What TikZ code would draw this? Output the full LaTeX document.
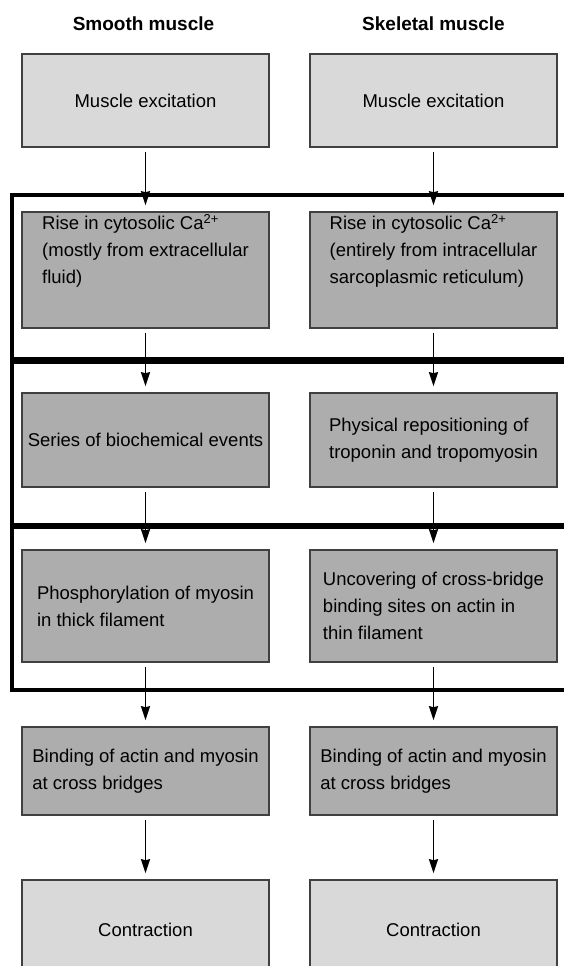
\documentclass[tikz,border=0pt]{standalone}
\usepackage{fontspec}
\setmainfont{Liberation Sans}
\usepackage{tikz}
\usetikzlibrary{arrows.meta}

\begin{document}
\begin{tikzpicture}[x=1pt,y=-1pt,>=Stealth,
box/.style={draw=black!75,line width=1.6pt,minimum width=247pt,inner sep=6pt,align=left,font=\fontsize{18.5}{27}\selectfont},
lightbox/.style={box,fill=black!15},
darkbox/.style={box,fill=black!32},
boxtext/.style={align=left,inner sep=0pt,font=\fontsize{18.5}{27}\selectfont},
head/.style={font=\bfseries\fontsize{19}{22}\selectfont,anchor=base},
flow/.style={-{Stealth[length=14pt,width=9pt,inset=1pt]},line width=1.8pt,shorten <=4pt,shorten >=6pt}]
\fill[white](0,0)rectangle(563,966);
\useasboundingbox(0,0)rectangle(563,966);
%% heads
\node[head](smHead) at (143.5,31){Smooth muscle};
\node[head](skHead) at (433.5,31){Skeletal muscle};
%% frame
\draw[line width=4pt](12,195)rectangle(580,690);
\draw[line width=7pt](12,360)--(580,360);
\draw[line width=6pt](12,526)--(580,526);
%% smooth muscle
\node[lightbox,minimum height=93pt](smExc) at (145.5,100.5){Muscle excitation};
\node[darkbox,minimum height=116pt](smCa) at (145.5,270){};
\node[boxtext](smCaText) at ([yshift=19pt]smCa.center){Rise in cytosolic Ca\textsuperscript{2+}\\(mostly from extracellular\\fluid)};
\node[darkbox,minimum height=94pt](smBio) at (145.5,440){Series of biochemical events};
\node[darkbox,minimum height=112pt](smPho) at (145.5,606){Phosphorylation of myosin\\in thick filament};
\node[darkbox,minimum height=88pt](smBind) at (145.5,771){Binding of actin and myosin\\at cross bridges};
\node[lightbox,minimum height=100pt](smCon) at (145.5,930){Contraction};
%% skeletal muscle
\node[lightbox,minimum height=93pt](skExc) at (433.5,100.5){Muscle excitation};
\node[darkbox,minimum height=116pt](skCa) at (433.5,270){};
\node[boxtext](skCaText) at ([yshift=19pt]skCa.center){Rise in cytosolic Ca\textsuperscript{2+}\\(entirely from intracellular\\sarcoplasmic reticulum)};
\node[darkbox,minimum height=94pt](skTro) at (433.5,440){Physical repositioning of\\troponin and tropomyosin};
\node[darkbox,minimum height=112pt](skUnc) at (433.5,606){Uncovering of cross-bridge\\binding sites on actin in\\thin filament};
\node[darkbox,minimum height=88pt](skBind) at (433.5,771){Binding of actin and myosin\\at cross bridges};
\node[lightbox,minimum height=100pt](skCon) at (433.5,930){Contraction};
%% arrows
\draw[flow](smExc)--(smCa);
\draw[flow](smCa)--(smBio);
\draw[flow](smBio)--(smPho);
\draw[flow](smPho)--(smBind);
\draw[flow](smBind)--(smCon);
\draw[flow](skExc)--(skCa);
\draw[flow](skCa)--(skTro);
\draw[flow](skTro)--(skUnc);
\draw[flow](skUnc)--(skBind);
\draw[flow](skBind)--(skCon);
\end{tikzpicture}
\end{document}
